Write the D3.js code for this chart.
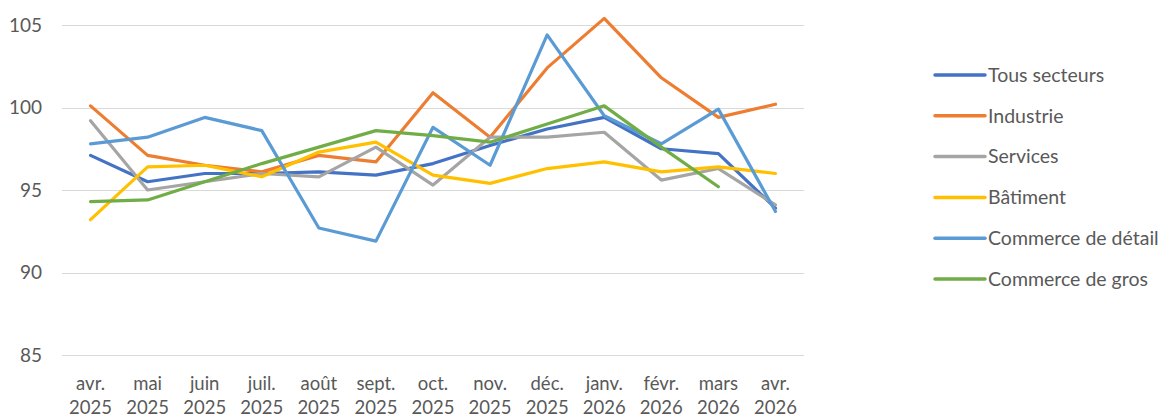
<!DOCTYPE html>
<html><head><meta charset="utf-8">
<script src="https://cdn.jsdelivr.net/npm/d3@7"></script>
<style>body{margin:0;background:#fff;}svg text{font-family:Lato,"Open Sans",sans-serif;fill:#595959;}</style>
</head><body><svg id="c" width="1169" height="419"></svg>
<script>
const months = ["avr.|2025","mai|2025","juin|2025","juil.|2025","août|2025","sept.|2025","oct.|2025","nov.|2025","déc.|2025","janv.|2026","févr.|2026","mars|2026","avr.|2026"];
const yTicks = [85, 90, 95, 100, 105];
const seriesNames = ["Tous secteurs","Industrie","Services","Bâtiment","Commerce de détail","Commerce de gros"];
const seriesColors = ["#4472C4","#ED7D31","#A5A5A5","#FFC000","#5B9BD5","#70AD47"];
const tousSecteurs = [97.1, 95.5, 96.0, 96.0, 96.1, 95.9, 96.6, 97.7, 98.7, 99.4, 97.5, 97.2, 93.9];
const industrie = [100.1, 97.1, 96.5, 96.1, 97.1, 96.7, 100.9, 98.2, 102.4, 105.4, 101.8, 99.4, 100.2];
const services = [99.2, 95.0, 95.5, 96.0, 95.8, 97.6, 95.3, 98.2, 98.2, 98.5, 95.6, 96.3, 94.1];
const batiment = [93.2, 96.4, 96.5, 95.8, 97.3, 97.9, 95.9, 95.4, 96.3, 96.7, 96.1, 96.4, 96.0];
const commerceDetail = [97.8, 98.2, 99.4, 98.6, 92.7, 91.9, 98.8, 96.5, 104.4, 99.5, 97.8, 99.9, 93.7];
const commerceGros = [94.3, 94.4, 95.5, 96.6, 97.6, 98.6, 98.3, 97.9, 99.0, 100.1, 97.6, 95.2, null];
const allSeries = [tousSecteurs, industrie, services, batiment, commerceDetail, commerceGros];

const svg = d3.select("#c");
const x = d3.scaleBand().domain(months).range([62, 804]);
const y = d3.scaleLinear().domain([85, 105]).range([355, 25]);

// grid
svg.append("g").selectAll("line").data(yTicks).join("line")
  .attr("x1", 62).attr("x2", 804)
  .attr("y1", d => Math.round(y(d)) + 0.5).attr("y2", d => Math.round(y(d)) + 0.5)
  .attr("stroke", "#d9d9d9").attr("stroke-width", 1);

// y labels
svg.append("g").selectAll("text").data(yTicks).join("text")
  .attr("x", 42).attr("y", d => y(d)).attr("dy", "0.35em")
  .attr("text-anchor", "end").style("font-size", "19px").text(d => d);

// x labels
const xl = svg.append("g").selectAll("text").data(months).join("text")
  .attr("text-anchor", "middle").style("font-size", "18.5px")
  .attr("transform", d => `translate(${x(d) + x.bandwidth()/2},0)`);
xl.append("tspan").attr("x", 0).attr("y", 390).text(d => d.split("|")[0]);
xl.append("tspan").attr("x", 0).attr("y", 414).text(d => d.split("|")[1]);

// lines
const line = d3.line()
  .defined(d => d.v != null)
  .x(d => x(d.m) + x.bandwidth()/2)
  .y(d => y(d.v));
allSeries.forEach((vals, i) => {
  svg.append("path")
    .datum(vals.map((v, j) => ({m: months[j], v})))
    .attr("fill", "none").attr("stroke", seriesColors[i])
    .attr("stroke-width", 3.2).attr("stroke-linejoin", "round").attr("stroke-linecap", "round")
    .attr("d", line);
});

// legend
const lg = svg.append("g").selectAll("g").data(seriesNames).join("g")
  .attr("transform", (d, i) => `translate(935,${75 + i * 40.8})`);
lg.append("line").attr("x1", 0).attr("x2", 50).attr("y1", 0).attr("y2", 0)
  .attr("stroke", (d, i) => seriesColors[i]).attr("stroke-width", 3.5).attr("stroke-linecap", "round");
lg.append("text").attr("x", 53).attr("y", 0).attr("dy", "0.35em")
  .style("font-size", "19.5px").text(d => d);
</script></body></html>
